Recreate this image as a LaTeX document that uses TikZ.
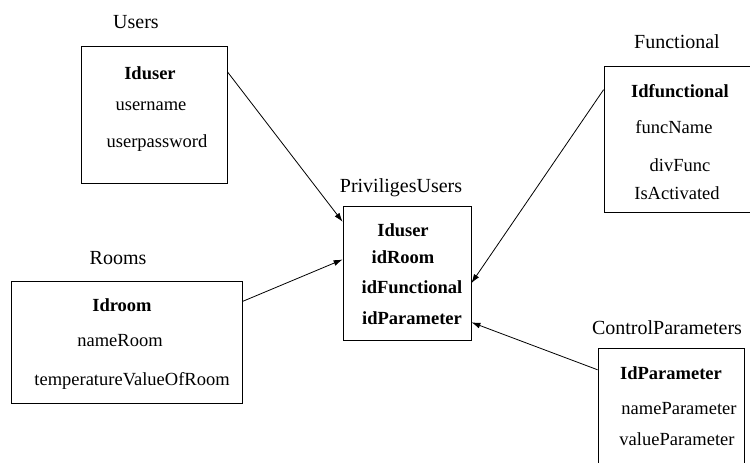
\documentclass[tikz,border=0pt]{standalone}
\usepackage{fontspec}
\setmainfont{Liberation Serif}
\newfontfamily\tablefont{Liberation Serif}
\usetikzlibrary{calc,arrows.meta}
\begin{document}
\begin{tikzpicture}[x=1pt,y=-1pt,
  table/.style={draw, line width=0.8pt, inner sep=0pt},
  title/.style={font=\tablefont\fontsize{20}{24}\selectfont, inner sep=0pt},
  field/.style={font=\tablefont\fontsize{18.5}{22}\selectfont, inner sep=0pt},
  key/.style={font=\tablefont\fontsize{18.5}{22}\selectfont\bfseries, inner sep=0pt},
  link/.style={line width=0.8pt, -{Latex[length=9pt,width=6pt]}}]
\useasboundingbox (0,0) rectangle (750,463);
\clip (0,0) rectangle (750,463);

% table frames
\node[table, minimum width=146pt, minimum height=137pt] (users) at (154,114.5) {};
\node[table, minimum width=128pt, minimum height=134pt] (priv) at (407,273) {};
\node[table, minimum width=161pt, minimum height=146pt] (func) at (684.5,139) {};
\node[table, minimum width=231pt, minimum height=122pt] (rooms) at (126.5,342) {};
\node[table, minimum width=146pt, minimum height=132pt] (ctrl) at (671,414) {};

% table names
\node[title] (usersT) at (136,22) {Users};
\node[title] (privT) at (401,188) {PriviligesUsers};
\node[title] (funcT) at (677,42) {Functional};
\node[title] (roomsT) at (118,258) {Rooms};
\node[title] (ctrlT) at (667,328) {ControlParameters};

% Users fields
\node[key] (u1) at (150,73) {Iduser};
\node[field] (u2) at (151,106) {username};
\node[field] (u3) at (157,143) {userpassword};

% PriviligesUsers fields
\node[key] (p1) at (403,230) {Iduser};
\node[key] (p2) at (403,257) {idRoom};
\node[key] (p3) at (412,287) {idFunctional};
\node[key] (p4) at (412,318) {idParameter};

% Functional fields
\node[key] (f1) at (680,91) {Idfunctional};
\node[field] (f2) at (674,127) {funcName};
\node[field] (f3) at (680,165) {divFunc};
\node[field] (f4) at (677,193) {IsActivated};

% Rooms fields
\node[key] (r1) at (122,305) {Idroom};
\node[field] (r2) at (120,341) {nameRoom};
\node[field] (r3) at (132,381) {temperatureValueOfRoom};

% ControlParameters fields
\node[key] (c1) at (671,373) {IdParameter};
\node[field] (c2) at (679,409) {nameParameter};
\node[field] (c3) at (677,439) {valueParameter};

% links into PriviligesUsers
\draw[link] ($(users.north east)!0.19!(users.south east)$) -- ($(priv.north west)!0.12!(priv.south west)$);
\draw[link] ($(rooms.north east)!0.17!(rooms.south east)$) -- ($(priv.north west)!0.40!(priv.south west)$);
\draw[link] ($(func.north west)!0.164!(func.south west)$) -- ($(priv.north east)!0.575!(priv.south east)$);
\draw[link] ($(ctrl.north west)!0.167!(ctrl.south west)$) -- ($(priv.north east)!0.866!(priv.south east)$);
\end{tikzpicture}
\end{document}
